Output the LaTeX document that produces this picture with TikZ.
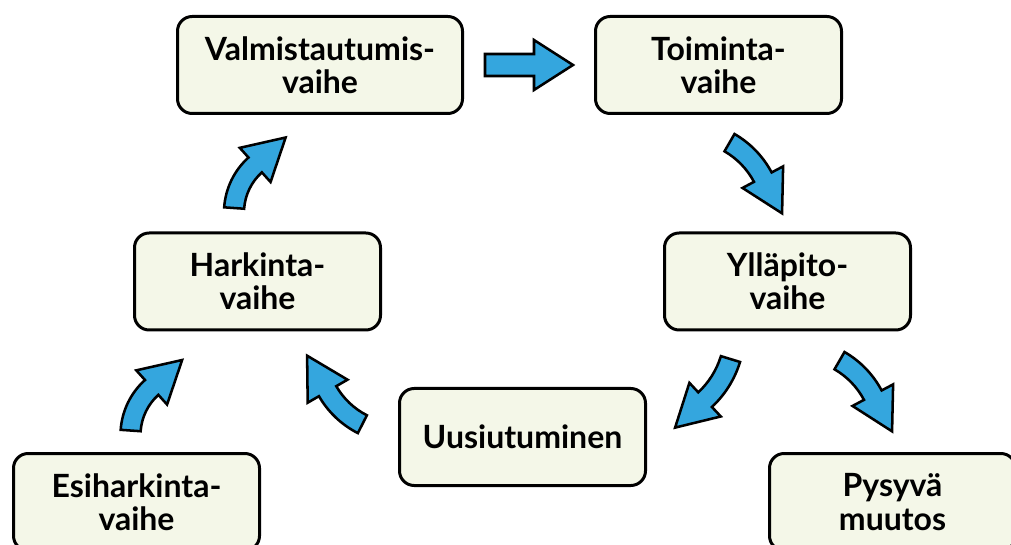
\documentclass[tikz,border=0pt]{standalone}
\usepackage{fontspec}
\setmainfont{Lato}
\usetikzlibrary{calc}
\usetikzlibrary{positioning}

\definecolor{vaihepohja}{RGB}{244,247,232}
\definecolor{nuolisini}{RGB}{52,166,222}

\begin{document}
\begin{tikzpicture}[x=0.75pt, y=-0.75pt,
        vaihe/.style={draw, line width=2.25pt, rounded corners=11pt, fill=vaihepohja,
            minimum width=184.5pt, minimum height=72.75pt, align=center,
            font=\fontsize{24}{25}\selectfont\bfseries},
        nuoli/.style={draw, line width=1.9pt, fill=nuolisini}]
        \clip (0,0) rectangle (1011,545);

        % Stages of change
        \node[vaihe, minimum width=213.75pt] (valmistautuminen) at (320,65) {Valmistautumis-\\vaihe};
        \node[vaihe] (toiminta) at (718.5,65) {Toiminta-\\vaihe};
        \node[vaihe] (harkinta) at (257.5,281.5) {Harkinta-\\vaihe};
        \node[vaihe] (yllapito) at (787.5,281.5) {Ylläpito-\\vaihe};
        \node[vaihe] (uusiutuminen) at (522.5,437) {Uusiutuminen};
        \node[vaihe] (esiharkinta) at (136.5,502) {Esiharkinta-\\vaihe};
        \node[vaihe] (pysyva) at (892.5,502) {Pysyvä\\muutos};

        % Straight arrow between the top boxes
        \coordinate (valli) at ($(valmistautuminen.east)!0.5!(toiminta.west)$);
        \draw[nuoli] (valli) ++(-44,-11) -- ++(49,0) -- ++(0,-14) -- ++(39,25)
            -- ++(-39,25) -- ++(0,-14) -- ++(-49,0) -- cycle;

        % Curved arrows: centre / radius / tail angle / head angle
        \foreach \cx/\cy/\r/\a/\b in {298/212.5/64/184/228, 194.5/435/64/184/228,
                686/218/87/300/332, 796/436/87/300/332,
                642/332/92.5/17/47, 400.7/349/84.4/117/150} {
            \pgfmathsetmacro\rin{\r-10}
            \pgfmathsetmacro\rout{\r+10}
            \pgfmathsetmacro\hin{\r-23}
            \pgfmathsetmacro\hout{\r+23}
            \pgfmathsetmacro\tang{\b+90}
            \begin{scope}[shift={(\cx,\cy)}]
                \draw[nuoli] (\a:\rin) arc[start angle=\a, end angle=\b, radius=\rin]
                    -- (\b:\hin) -- ($(\b:\r)+(\tang:41)$) -- (\b:\hout) -- (\b:\rout)
                    arc[start angle=\b, end angle=\a, radius=\rout] -- cycle;
            \end{scope}
        }
\end{tikzpicture}
\end{document}
